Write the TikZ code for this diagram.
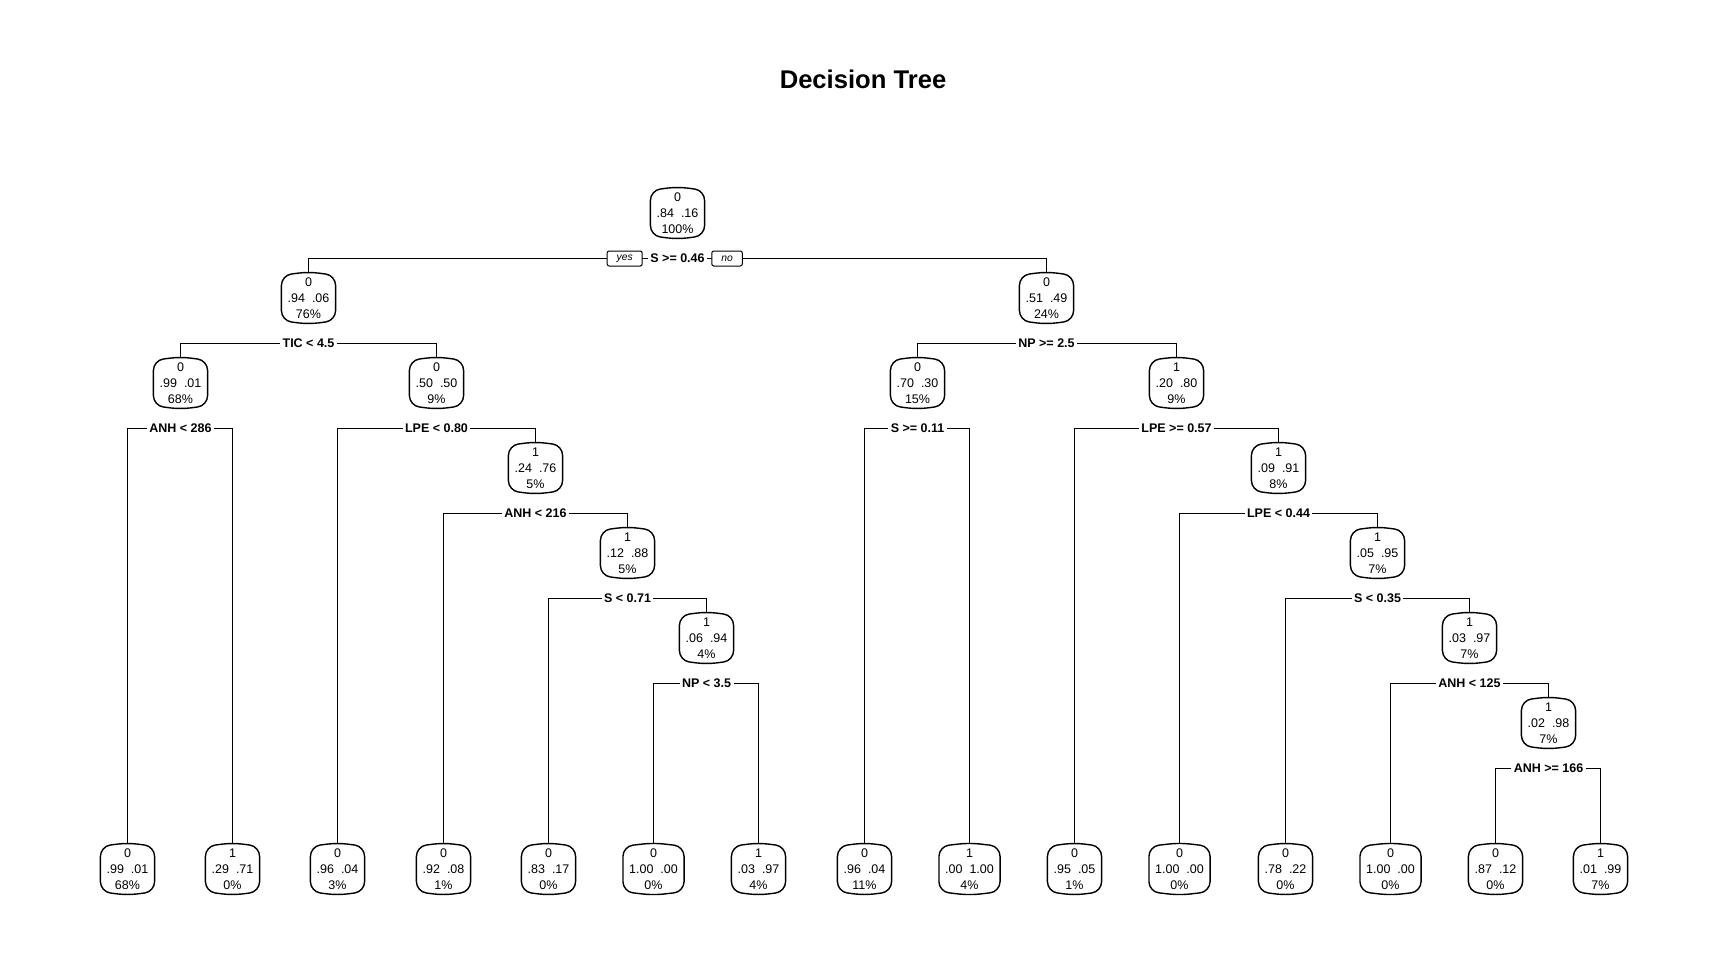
\documentclass[tikz,border=0pt]{standalone}
\usepackage{fontspec}
\setmainfont{Liberation Sans}
\usetikzlibrary{calc}

% node box: class, the two class probabilities, share of observations
\newcommand\dtnode[7]{\node[tnode] (#1) at (#2,#3) {#4\\#5\hspace{7pt}#6\\#7\%};}
% outline of a node box, slightly bulged at top and bottom
\newcommand\dtshell[1]{\draw[shell] (#1.north west) -- ([yshift=3.5pt]#1.north) -- (#1.north east) -- (#1.south east) -- ([yshift=-3.5pt]#1.south) -- (#1.south west) -- cycle;}
% split: parent, left child, right child, rule
\newcommand\dtsplit[4]{%
  \coordinate (#1-s) at ($(#1.center)+(0,45.5)$);
  \draw[edge] ([yshift=3.5pt]#2.north) |- (#1-s) -| ([yshift=3.5pt]#3.north);
  \node[splitlab] (#1-lab) at (#1-s) {#4};}

\tikzset{
  tnode/.style={font=\fontsize{12.5}{15.8}\selectfont, align=center, inner xsep=6pt, inner ysep=0pt, minimum height=45pt, minimum width=44pt},
  shell/.style={draw=black, line width=1.4pt, rounded corners=10pt},
  splitlab/.style={font=\bfseries\fontsize{12.5}{14}\selectfont, fill=white, inner xsep=2.5pt, inner ysep=1pt},
  edge/.style={draw=black, line width=1pt},
  yesno/.style={draw=black, line width=1pt, fill=white, rounded corners=2pt, font=\itshape\fontsize{10.3}{12}\selectfont, inner xsep=9.5pt, inner ysep=0pt, minimum height=15pt}
}

\begin{document}
\begin{tikzpicture}[x=1pt, y=-1pt]
\useasboundingbox[fill=white] (0,0) rectangle (1728,960);

\node[font=\bfseries\fontsize{25.6}{30}\selectfont] (title) at (863,79) {Decision Tree};

% internal nodes
\dtnode{root}{677.5}{213}{0}{.84}{.16}{100}
\dtnode{A}{308.5}{298}{0}{.94}{.06}{76}
\dtnode{B}{180.5}{383}{0}{.99}{.01}{68}
\dtnode{C}{436.5}{383}{0}{.50}{.50}{9}
\dtnode{D}{535.5}{468}{1}{.24}{.76}{5}
\dtnode{E}{627.5}{553}{1}{.12}{.88}{5}
\dtnode{F}{706.5}{638}{1}{.06}{.94}{4}
\dtnode{G}{1046.5}{298}{0}{.51}{.49}{24}
\dtnode{H}{917.5}{383}{0}{.70}{.30}{15}
\dtnode{I}{1176.5}{383}{1}{.20}{.80}{9}
\dtnode{J}{1278.5}{468}{1}{.09}{.91}{8}
\dtnode{K}{1377.5}{553}{1}{.05}{.95}{7}
\dtnode{L}{1469.5}{638}{1}{.03}{.97}{7}
\dtnode{M}{1548.5}{723}{1}{.02}{.98}{7}

% leaves
\dtnode{l1}{127.5}{869}{0}{.99}{.01}{68}
\dtnode{l2}{232.5}{869}{1}{.29}{.71}{0}
\dtnode{l3}{337.5}{869}{0}{.96}{.04}{3}
\dtnode{l4}{443.5}{869}{0}{.92}{.08}{1}
\dtnode{l5}{548.5}{869}{0}{.83}{.17}{0}
\dtnode{l6}{653.5}{869}{0}{1.00}{.00}{0}
\dtnode{l7}{758.5}{869}{1}{.03}{.97}{4}
\dtnode{l8}{864.5}{869}{0}{.96}{.04}{11}
\dtnode{l9}{969.5}{869}{1}{.00}{1.00}{4}
\dtnode{l10}{1074.5}{869}{0}{.95}{.05}{1}
\dtnode{l11}{1179.5}{869}{0}{1.00}{.00}{0}
\dtnode{l12}{1285.5}{869}{0}{.78}{.22}{0}
\dtnode{l13}{1390.5}{869}{0}{1.00}{.00}{0}
\dtnode{l14}{1495.5}{869}{0}{.87}{.12}{0}
\dtnode{l15}{1600.5}{869}{1}{.01}{.99}{7}

\foreach \n in {root,A,B,C,D,E,F,G,H,I,J,K,L,M,l1,l2,l3,l4,l5,l6,l7,l8,l9,l10,l11,l12,l13,l14,l15}
  {\dtshell{\n}}

% splits
\dtsplit{root}{A}{G}{S >= 0.46}
\node[yesno, anchor=east] (yes) at ([xshift=-5pt]root-lab.west) {yes};
\node[yesno, anchor=west] (no) at ([xshift=4pt]root-lab.east) {no};
\dtsplit{A}{B}{C}{TIC < 4.5}
\dtsplit{B}{l1}{l2}{ANH < 286}
\dtsplit{C}{l3}{D}{LPE < 0.80}
\dtsplit{D}{l4}{E}{ANH < 216}
\dtsplit{E}{l5}{F}{S < 0.71}
\dtsplit{F}{l6}{l7}{NP < 3.5}
\dtsplit{G}{H}{I}{NP >= 2.5}
\dtsplit{H}{l8}{l9}{S >= 0.11}
\dtsplit{I}{l10}{J}{LPE >= 0.57}
\dtsplit{J}{l11}{K}{LPE < 0.44}
\dtsplit{K}{l12}{L}{S < 0.35}
\dtsplit{L}{l13}{M}{ANH < 125}
\dtsplit{M}{l14}{l15}{ANH >= 166}
\end{tikzpicture}
\end{document}
